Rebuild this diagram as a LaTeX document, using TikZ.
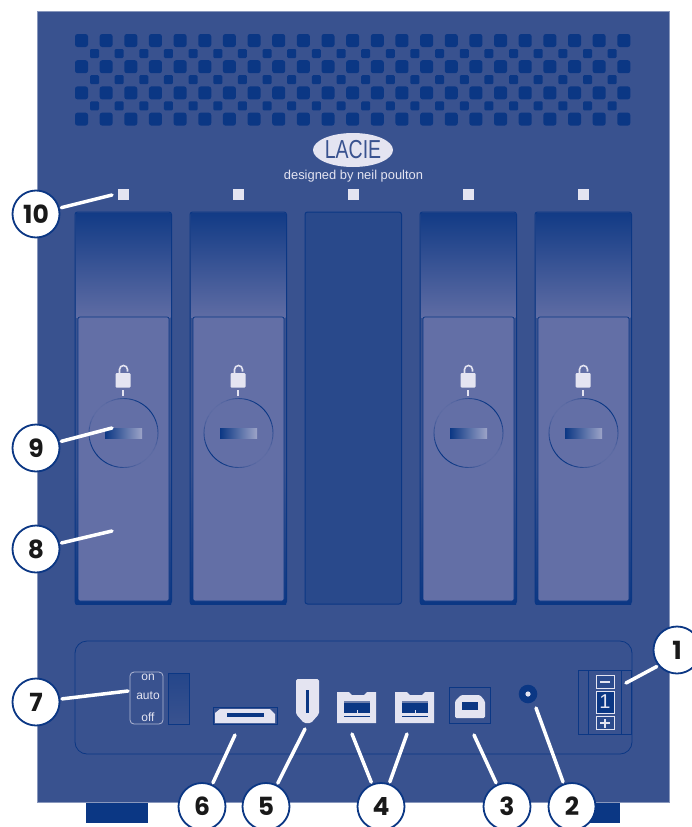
\documentclass[tikz,border=0pt]{standalone}
\usepackage{fontspec}
\usetikzlibrary{shapes.geometric}
\setmainfont{Liberation Sans}
\newfontfamily\numfont{Poppins}
\definecolor{panel}{HTML}{39528F}
\definecolor{navy}{HTML}{0B3784}
\definecolor{tray}{HTML}{636FA6}
\definecolor{pale}{HTML}{E4E4F1}
\begin{document}
\begin{tikzpicture}[x=1pt,y=-1pt,
 callout/.style={circle,draw=navy,line width=1.8pt,fill=white,minimum size=47pt,inner sep=0pt,font=\numfont\bfseries\fontsize{25}{25}\selectfont,text=black!90},
 leader/.style={draw=white,line width=3.5pt,line cap=round,shorten <=1.8pt},
 holeA/.style={fill=navy,rounded corners=2.5pt},
 holeB/.style={fill=navy,rounded corners=1.2pt},
 ledbox/.style={fill=pale,draw=none,minimum size=11pt,inner sep=0pt},
 porttext/.style={text=pale,inner sep=0pt,font=\fontsize{12}{12}\selectfont}]
\useasboundingbox (0,0) rectangle (691,827);
\fill[white] (0,0) rectangle (691,827);
% feet
\fill[navy] (86,800) rectangle (148,823);
\fill[navy] (590,800) rectangle (620,823);
% body
\fill[panel,draw=panel!60!white,line width=.5pt] (37,11) rectangle (669,802);
% grille
\foreach \r in {0,1,2,3} \foreach \c in {0,...,22}
  \fill[holeA] ({75+\c*24.65},{34+\r*26.2}) rectangle +(13,13);
\foreach \r in {0,1,2} \foreach \c in {0,...,21}
  \fill[holeB] ({90+\c*24.65},{49+\r*26.2}) rectangle +(9,9);
% logo
\node[ellipse,fill=pale,minimum width=80pt,minimum height=34pt,inner sep=0pt] (logo) at (353,150) {};
\node[text=panel,inner sep=0pt,font=\fontsize{26}{26}\selectfont,xscale=.75] (logot) at (353,150) {LACIE};
\node[text=pale,inner sep=0pt,font=\fontsize{12.9}{13}\selectfont] (sig) at (353.5,176.5) {designed by neil poulton};
% LEDs
\foreach \n/\x in {a/123.5,b/238,c/353,d/468,e/583}
  \node[ledbox] (led\n) at (\x,194.5) {};
% bays
\foreach \x in {75,190,420,535} {
  \fill[panel,rounded corners=2.5pt] (\x,212) rectangle +(96.5,392);
  \shade[top color=navy!85!panel,bottom color=tray!90!panel] (\x+1,213) rectangle +(94.5,104);
  \shade[top color=panel,bottom color=navy] (\x+.5,470) rectangle +(95.5,134);
  \draw[navy,line width=1pt,rounded corners=2.5pt] (\x,212) rectangle +(96.5,392);
}
\fill[navy!35!panel,rounded corners=2.5pt] (305,212) rectangle (401.5,604);
\draw[navy,line width=1pt,rounded corners=2.5pt] (305,212) rectangle (401.5,604);
% trays
\foreach \x in {78,193,423,538} {
  \fill[tray,draw=navy,line width=.7pt,rounded corners=2pt] (\x,317) rectangle +(91,284);
  \begin{scope}[shift={(\x+45,0)}]
    \fill[pale,rounded corners=1pt] (-7.5,373) rectangle (7.5,387.5);
    \draw[pale,line width=1.6pt] (-3.5,374) -- (-3.5,369.5) arc[start angle=180,end angle=360,radius=4] -- (4.5,371.5);
    \fill[pale] (-1.2,390) rectangle (1.2,396);
    \shade[left color=navy,right color=pale!45!tray] (-18,428) rectangle (19,438.5);
  \end{scope}
  \foreach \a in {0,10,...,350} {
    \pgfmathtruncatemacro{\p}{55-50*sin(2*(\a+5))}
    \draw[navy!\p!tray,line width=.9pt] ({\x+45.5+34.5*cos(\a)},{433+34.5*sin(\a)}) arc[start angle=\a,delta angle=10.5,radius=34.5];
  }
}
% lower recess
\draw[navy,line width=.8pt,rounded corners=12pt] (75,641) rectangle (632,754);
% switch
\node[draw=pale!70!panel,line width=.8pt,rounded corners=4pt,minimum width=33pt,minimum height=52pt,inner sep=0pt] (sw) at (146.5,698) {};
\node[porttext] (swon) at (148,677) {on};
\node[porttext] (swauto) at (148,696) {auto};
\node[porttext] (swoff) at (148,717) {off};
\shade[top color=navy!45!panel,bottom color=panel] (168,673) rectangle (189,724);
\draw[navy,line width=1pt] (168,673) rectangle (189,724);
% 6
\draw[navy,line width=.6pt] (213,707) rectangle (277,724);
\fill[pale] (215,713) -- (220,709) -- (270,709) -- (275,714) -- (275,723) -- (215,723) -- cycle;
\fill[navy] (227,713) rectangle (264,717);
% 5
\fill[pale,rounded corners=1.5pt] (296,679) -- (319,679) -- (319,714) -- (311,723) -- (304,723) -- (296,714) -- cycle;
\fill[navy] (305.5,690) rectangle (309,713);
% 4
\foreach \x in {337,395} {
  \fill[pale] (\x,692) -- (\x+12,692) -- (\x+15,695) -- (\x+27,695) -- (\x+30,692) -- (\x+39,692) -- (\x+39,723) -- (\x,723) -- cycle;
  \fill[navy] (\x+7,701) rectangle (\x+33,717);
  \fill[panel!70!pale] (\x+7,701) rectangle (\x+33,703);
  \fill[pale] (\x+7,713) rectangle (\x+33,715.5);
  \fill[pale] (\x+19.5,710) rectangle (\x+20.5,714);
}
% 3
\draw[navy,line width=.6pt] (449,687) rectangle (490,723);
\fill[pale,rounded corners=1.5pt] (455,718) -- (455,701) -- (461,695) -- (480,695) -- (485,701) -- (485,718) -- cycle;
\fill[navy] (462,702) rectangle (478,710);
% 2
\fill[navy] (528,694) circle[radius=9.3];
\fill[pale] (528,694) circle[radius=2.6];
% 1
\draw[navy,line width=.6pt] (578,670) rectangle (631,734);
\draw[navy,line width=.6pt] (588,670) -- (588,734) (621,670) -- (621,734);
\draw[pale,line width=.7pt,fill=navy!30!panel] (596,675.5) rectangle (614,688.5);
\fill[pale] (600,681) rectangle (610,683);
\node[draw=pale,line width=.8pt,fill=navy,text=pale,minimum width=18pt,minimum height=22pt,inner sep=0pt,font=\fontsize{20}{20}\selectfont] (term) at (605,702) {1};
\draw[pale,line width=.7pt,fill=navy!30!panel] (596,716.5) rectangle (614,729);
\fill[pale] (600,722) rectangle (610,724);
\fill[pale] (604,718.5) rectangle (606,727.5);
% anchors
\coordinate (t10) at (112,195);
\coordinate (t9) at (112,428);
\coordinate (t8) at (112,531);
\coordinate (t7) at (128,691);
\coordinate (t6) at (235,735);
\coordinate (t5) at (305,729);
\coordinate (t4a) at (352,734);
\coordinate (t4b) at (407,734);
\coordinate (t3) at (474,735);
\coordinate (t2) at (536,708);
\coordinate (t1) at (626,683);
% callouts
\node[callout] (c10) at (36,214) {10};
\node[callout] (c9) at (36,448) {9};
\node[callout] (c8) at (36,549) {8};
\node[callout] (c7) at (36,702) {7};
\node[callout] (c6) at (202,806.5) {6};
\node[callout] (c5) at (266,806.5) {5};
\node[callout] (c4) at (381,806.5) {4};
\node[callout] (c3) at (507,806.5) {3};
\node[callout] (c2) at (572,806.5) {2};
\node[callout] (c1) at (677,650) {1};
\draw[leader] (c10) -- (t10);
\draw[leader] (c9) -- (t9);
\draw[leader] (c8) -- (t8);
\draw[leader] (c7) -- (t7);
\draw[leader] (c6) -- (t6);
\draw[leader] (c5) -- (t5);
\draw[leader] (c4) -- (t4a);
\draw[leader] (c4) -- (t4b);
\draw[leader] (c3) -- (t3);
\draw[leader] (c2) -- (t2);
\draw[leader] (c1.220) -- (t1);
\end{tikzpicture}
\end{document}
